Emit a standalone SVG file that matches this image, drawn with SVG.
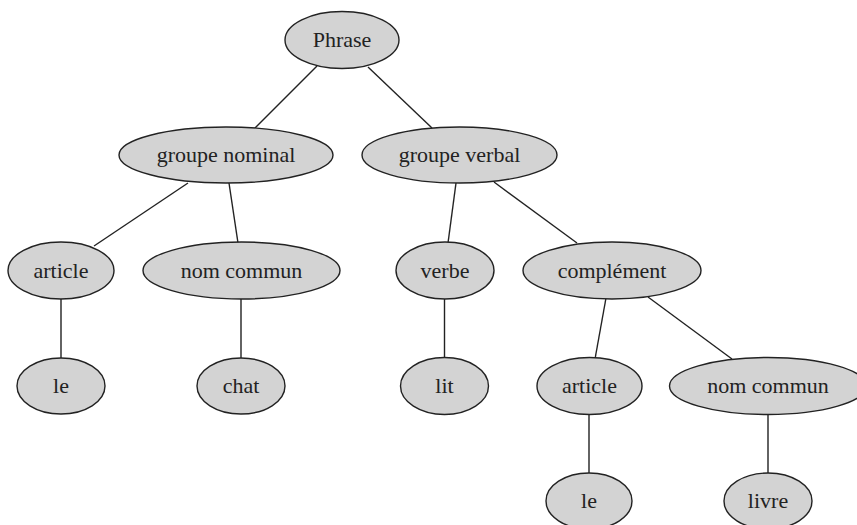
<svg xmlns="http://www.w3.org/2000/svg" width="857" height="525" viewBox="0 0 857 525">
<style>
.n ellipse{fill:#d3d3d3;stroke:#222;stroke-width:1.4}
.n text{font-family:"Liberation Serif","Times New Roman",serif;font-size:22px;fill:#222;text-anchor:middle}
.e line{stroke:#222;stroke-width:1.4}
</style>
<rect width="857" height="525" fill="#fff"/>
<g class="e" id="edges">
<line x1="317" y1="66" x2="255" y2="128"/>
<line x1="368" y1="67" x2="432" y2="128"/>
<line x1="188" y1="183" x2="94" y2="246"/>
<line x1="229" y1="183" x2="238" y2="243"/>
<line x1="456" y1="183" x2="448" y2="243"/>
<line x1="494" y1="182" x2="577" y2="243"/>
<line x1="61" y1="298" x2="61" y2="359"/>
<line x1="241" y1="298" x2="241" y2="359"/>
<line x1="444.5" y1="298" x2="444.5" y2="359"/>
<line x1="606" y1="298" x2="595" y2="359"/>
<line x1="648" y1="297" x2="732" y2="359"/>
<line x1="589" y1="413" x2="589" y2="474"/>
<line x1="768" y1="413" x2="768" y2="474"/>
</g>
<g class="n" id="phrase"><ellipse cx="342" cy="40" rx="57" ry="28.5"/><text x="342" y="47">Phrase</text></g>
<g class="n" id="groupe_nominal"><ellipse cx="226" cy="155" rx="107" ry="28"/><text x="226" y="162">groupe nominal</text></g>
<g class="n" id="groupe_verbal"><ellipse cx="459.5" cy="155" rx="97.5" ry="28"/><text x="459.5" y="162">groupe verbal</text></g>
<g class="n" id="article1"><ellipse cx="61" cy="270.5" rx="53" ry="28.5"/><text x="61" y="277.5">article</text></g>
<g class="n" id="nom_commun1"><ellipse cx="241.5" cy="270.5" rx="98.5" ry="28.5"/><text x="241.5" y="277.5">nom commun</text></g>
<g class="n" id="verbe"><ellipse cx="445" cy="270.5" rx="49" ry="28.5"/><text x="445" y="277.5">verbe</text></g>
<g class="n" id="complement"><ellipse cx="612" cy="270.5" rx="89" ry="28.5"/><text x="612" y="277.5">complément</text></g>
<g class="n" id="le1"><ellipse cx="61" cy="386" rx="44" ry="28"/><text x="61" y="393">le</text></g>
<g class="n" id="chat"><ellipse cx="241" cy="386" rx="44" ry="28"/><text x="241" y="393">chat</text></g>
<g class="n" id="lit"><ellipse cx="444.5" cy="386" rx="44" ry="28.5"/><text x="444.5" y="393">lit</text></g>
<g class="n" id="article2"><ellipse cx="589.5" cy="386" rx="52.5" ry="28.5"/><text x="589.5" y="393">article</text></g>
<g class="n" id="nom_commun2"><ellipse cx="768" cy="386" rx="98.5" ry="28.5"/><text x="768" y="393">nom commun</text></g>
<g class="n" id="le2"><ellipse cx="589" cy="501" rx="43" ry="28"/><text x="589" y="508">le</text></g>
<g class="n" id="livre"><ellipse cx="768" cy="501" rx="44" ry="28"/><text x="768" y="508">livre</text></g>
</svg>
